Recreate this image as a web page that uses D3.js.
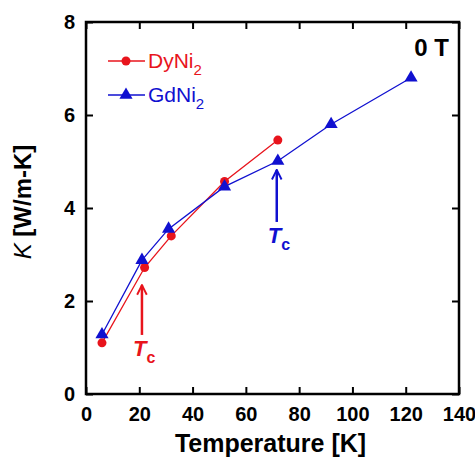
<!DOCTYPE html>
<html>
<head>
<meta charset="utf-8">
<script src="https://cdn.jsdelivr.net/npm/d3@7"></script>
<style>
  body { margin: 0; background: #fff; }
  text { font-family: "Liberation Sans", Arial, sans-serif; }
</style>
</head>
<body>
<script>
var width = 475,
    height = 457,
    margin = {left: 86, right: 16, top: 22, bottom: 63}; // plot frame

// DyNi2 (red circles)
var dy_t = [6, 22, 32, 52, 72],
    dy_k = [1.10, 2.72, 3.40, 4.57, 5.46];

// GdNi2 (blue triangles)
var gd_t = [6, 21, 31, 52, 72, 92, 122],
    gd_k = [1.28, 2.88, 3.55, 4.46, 5.01, 5.80, 6.80];

// Tc arrows: [T, K at tail, K at tip]
var tc_dy = [21, 1.27, 2.34],
    tc_gd = [71.6, 3.70, 4.82];

var x_ticks = [0, 20, 40, 60, 80, 100, 120, 140],
    y_ticks = [0, 2, 4, 6, 8];

var red = "#e8141c",
    blue = "#1010d0";

var svg = d3.select("body")
            .append("svg")
            .attr("width", width)
            .attr("height", height);

var x = d3.scaleLinear()
          .domain([0, 140])
          .range([margin.left, width - margin.right]);

var y = d3.scaleLinear()
          .domain([0, 8])
          .range([height - margin.bottom, margin.top]);

var defs = svg.append("defs");
[["ar_red", red], ["ar_blue", blue]].forEach(function(a) {
  defs.append("marker")
      .attr("id", a[0])
      .attr("viewBox", "0 0 10 10")
      .attr("refX", 9).attr("refY", 5)
      .attr("markerUnits", "userSpaceOnUse")
      .attr("orient", "auto")
      .attr("markerWidth", 12).attr("markerHeight", 14)
    .append("path")
      .attr("d", "M1,1 L9,5 L1,9")
      .attr("fill", "none")
      .attr("stroke", a[1])
      .attr("stroke-width", 1.6);
});

/* axes, ticks pointing inward */
function axis_g(gen, tx, ty) {
  var g = svg.append("g").attr("transform", "translate(" + tx + "," + ty + ")").call(gen);
  g.select(".domain").remove();
  g.selectAll(".tick line").attr("stroke", "#000").attr("stroke-width", 2);
  return g;
}

var xb = axis_g(d3.axisBottom(x).tickValues(x_ticks).tickSize(-7).tickPadding(13), 0, y(0));
xb.selectAll("text").attr("font-size", 20).attr("font-weight", "bold").attr("fill", "#000");
axis_g(d3.axisTop(x).tickValues(x_ticks).tickSize(-7).tickFormat(""), 0, y(8));

var yl = axis_g(d3.axisLeft(y).tickValues(y_ticks).tickSize(-7).tickPadding(11), x(0), 0);
yl.selectAll("text").attr("font-size", 20).attr("font-weight", "bold").attr("fill", "#000");
axis_g(d3.axisRight(y).tickValues(y_ticks).tickSize(-7).tickFormat(""), x(140), 0);

svg.append("rect")
   .attr("x", x(0)).attr("y", y(8))
   .attr("width", x(140) - x(0)).attr("height", y(0) - y(8))
   .attr("fill", "none").attr("stroke", "#000").attr("stroke-width", 2.5);

/* axis titles */
svg.append("text")
   .attr("x", (x(0) + x(140)) / 2 - 2).attr("y", 452)
   .attr("text-anchor", "middle")
   .attr("font-size", 25).attr("font-weight", "bold")
   .text("Temperature [K]");

var yt = svg.append("text")
   .attr("transform", "translate(31," + (y(4) - 6) + ") rotate(-90)")
   .attr("text-anchor", "middle")
   .attr("font-size", 24).attr("font-weight", "bold");
yt.append("tspan").attr("font-style", "italic").attr("font-weight", "normal").text("K");
yt.append("tspan").text(" [W/m-K]");

/* series */
var line = d3.line().x(function(d) { return x(d[0]); }).y(function(d) { return y(d[1]); });
var dy_data = d3.zip(dy_t, dy_k),
    gd_data = d3.zip(gd_t, gd_k);

svg.append("path").datum(dy_data).attr("d", line)
   .attr("fill", "none").attr("stroke", red).attr("stroke-width", 1.3);
svg.append("path").datum(gd_data).attr("d", line)
   .attr("fill", "none").attr("stroke", blue).attr("stroke-width", 1.3);

var tri = d3.symbol().type(d3.symbolTriangle).size(75);

svg.append("g").selectAll("circle").data(dy_data).enter().append("circle")
   .attr("cx", function(d) { return x(d[0]); })
   .attr("cy", function(d) { return y(d[1]); })
   .attr("r", 4.5).attr("fill", red);

svg.append("g").selectAll("path").data(gd_data).enter().append("path")
   .attr("d", tri)
   .attr("transform", function(d) { return "translate(" + x(d[0]) + "," + y(d[1]) + ")"; })
   .attr("fill", blue);

/* Tc arrows and labels */
function tc(a, color, mk) {
  svg.append("line")
     .attr("x1", x(a[0])).attr("x2", x(a[0]))
     .attr("y1", y(a[1])).attr("y2", y(a[2]))
     .attr("stroke", color).attr("stroke-width", 2.5)
     .attr("marker-end", "url(#" + mk + ")");
  var t = svg.append("text")
     .attr("x", x(a[0]) - 9).attr("y", y(a[1]) + 21)
     .attr("font-size", 22).attr("font-weight", "bold").attr("fill", color);
  t.append("tspan").attr("font-style", "italic").text("T");
  t.append("tspan").attr("font-size", 16).attr("dy", 7).text("c");
}
tc(tc_dy, red, "ar_red");
tc(tc_gd, blue, "ar_blue");

/* legend */
var legend = [["DyNi", red, "circle", 61], ["GdNi", blue, "tri", 95]];
legend.forEach(function(l) {
  svg.append("line")
     .attr("x1", 108).attr("x2", 145).attr("y1", l[3]).attr("y2", l[3])
     .attr("stroke", l[1]).attr("stroke-width", 1.3);
  if (l[2] == "circle")
    svg.append("circle").attr("cx", 126).attr("cy", l[3]).attr("r", 4.5).attr("fill", l[1]);
  else
    svg.append("path").attr("d", tri).attr("transform", "translate(126," + l[3] + ")").attr("fill", l[1]);
  var t = svg.append("text")
     .attr("x", 148).attr("y", l[3] + 7)
     .attr("font-size", 21).attr("fill", l[1]);
  t.append("tspan").text(l[0]);
  t.append("tspan").attr("font-size", 15).attr("dy", 7).text("2");
});

svg.append("text")
   .attr("x", 449).attr("y", 56)
   .attr("text-anchor", "end")
   .attr("font-size", 24).attr("font-weight", "bold")
   .text("0 T");
</script>
</body>
</html>
